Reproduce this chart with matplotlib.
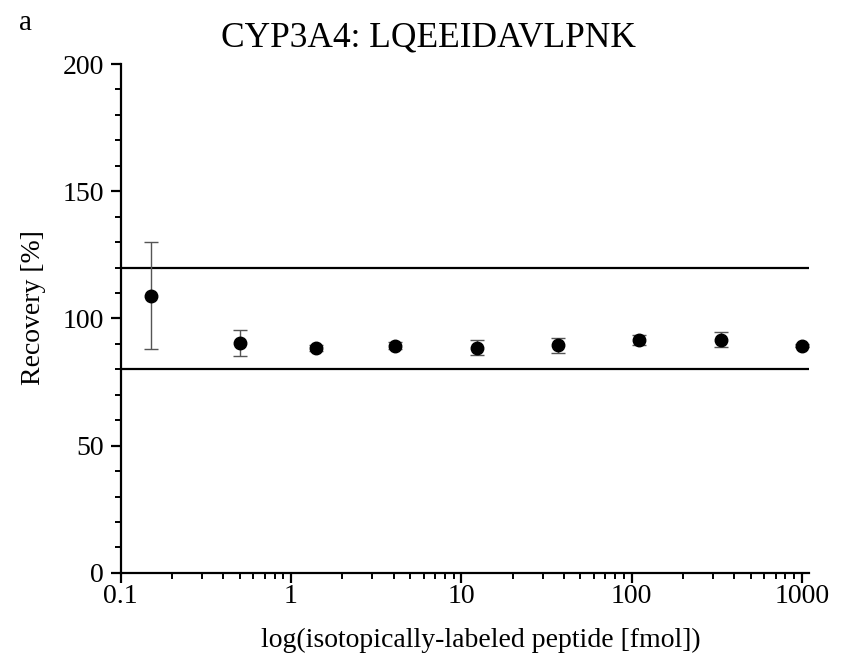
import numpy as np
import matplotlib
matplotlib.use('Agg')
import matplotlib.pyplot as plt
from matplotlib.ticker import LogLocator, FixedLocator, MultipleLocator, NullFormatter

# data
amount_fmol = [0.15, 0.5, 1.4, 4.1, 12.3, 37, 111, 333, 1000]
recovery    = [109.0, 90.4, 88.4, 89.3, 88.5, 89.5, 91.4, 91.6, 89.3]
recovery_sd = [21.0, 5.0, 1.0, 1.5, 3.0, 3.0, 2.0, 3.0, 0.5]
limits      = [80, 120]
x_ticks     = [0.1, 1, 10, 100, 1000]
x_labels    = ['0.1', '1', '10', '100', '1000']

plt.rcParams.update({
    'font.family': ['Liberation Serif', 'DejaVu Serif'],
    'font.size': 20,
})

fig = plt.figure(figsize=(8.41, 6.60), dpi=100)
ax = fig.add_axes([0.1435, 0.132, 0.8185, 0.771])

for lim in limits:
    ax.axhline(lim, color='black', linewidth=1.6, zorder=1)

ax.errorbar(amount_fmol, recovery, yerr=recovery_sd, fmt='o',
            color='black', markersize=9, ecolor='#555555',
            elinewidth=1.0, capsize=5, capthick=1.0, zorder=3)

ax.set_xscale('log')
ax.set_xlim(0.1, 1100)
ax.set_ylim(0, 200)

ax.xaxis.set_major_locator(FixedLocator(x_ticks))
ax.set_xticklabels(x_labels)
ax.xaxis.set_minor_locator(LogLocator(base=10, subs=np.arange(2, 10)))
ax.xaxis.set_minor_formatter(NullFormatter())
ax.yaxis.set_major_locator(MultipleLocator(50))
ax.yaxis.set_minor_locator(MultipleLocator(10))

for side in ['top', 'right']:
    ax.spines[side].set_visible(False)
for side in ['left', 'bottom']:
    ax.spines[side].set_linewidth(1.6)

ax.tick_params(which='major', direction='out', length=7, width=1.6,
               labelsize=20)
ax.tick_params(axis='y', which='major', pad=5)
ax.tick_params(axis='x', which='major', pad=1)
ax.tick_params(which='minor', direction='out', length=4, width=1.4)

ax.set_xlabel('log(isotopically-labeled peptide [fmol])', fontsize=20)
ax.xaxis.set_label_coords(0.523, -0.108)
ax.set_ylabel('Recovery [%]', fontsize=20)
ax.yaxis.set_label_coords(-0.108, 0.521)

fig.text(0.510, 1 - 47 / 660, 'CYP3A4: LQEEIDAVLPNK', fontsize=25.5,
         ha='center', va='baseline')
fig.text(0.022, 0.955, 'a', fontsize=21)

fig.savefig('out.png', dpi=100)
